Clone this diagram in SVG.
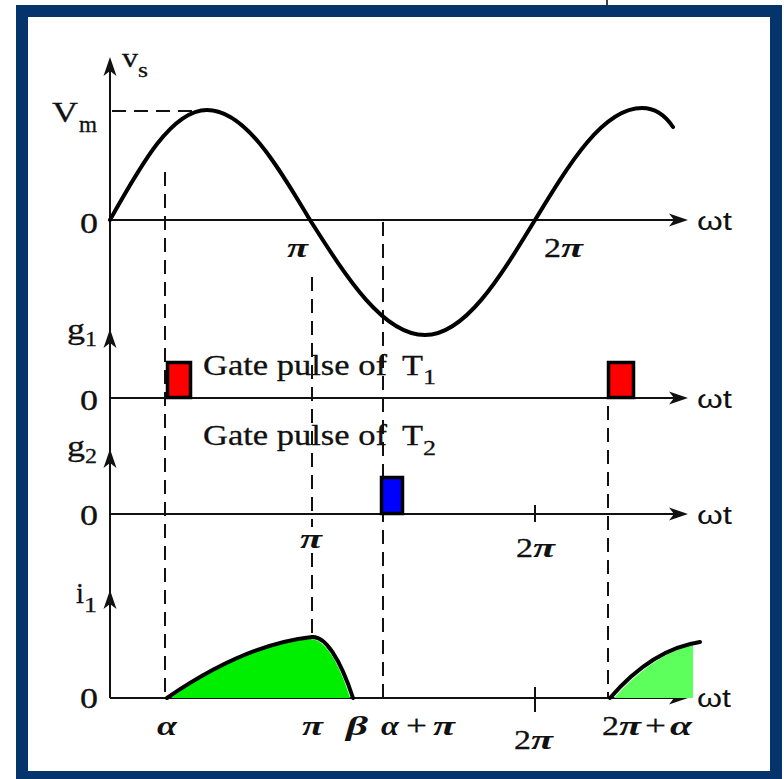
<svg xmlns="http://www.w3.org/2000/svg" width="784" height="779" viewBox="0 0 784 779">
<style>
.s{font-family:"Liberation Serif","Times New Roman",serif;fill:#111;stroke:#111;stroke-width:0.3}
.gk{font-family:"Liberation Serif","Times New Roman",serif;font-style:italic;font-weight:bold;fill:#111}
.sa{font-family:"Liberation Sans",Arial,sans-serif;fill:#111}
.ax{stroke:#111;stroke-width:2;fill:none}
.dash{stroke:#111;stroke-width:2;fill:none;stroke-dasharray:14 8}
.wave{stroke:#000;stroke-width:4;fill:none;stroke-linecap:round}
.pulse{stroke:#000;stroke-width:3.5}
</style>
<defs>
<path id="ah" d="M0,0 L-19,-6.5 L-14,0 L-19,6.5 Z" fill="#111"/>
</defs>
<rect x="0" y="0" width="784" height="779" fill="#fff"/>
<g id="frame">
<rect x="22" y="11" width="754" height="766" fill="none" stroke="#05346c" stroke-width="12"/>
<line x1="607" y1="0" x2="607" y2="5" stroke="#000" stroke-width="1.5"/>
</g>
<g id="connectors">
<path class="ax" d="M110,62 V698"/>
<path class="ax" d="M110,220 H682"/>
<path class="ax" d="M110,398 H682"/>
<path class="ax" d="M110,514 H682"/>
<path class="ax" d="M110,698 H682"/>
<use href="#ah" transform="translate(688,220)"/>
<use href="#ah" transform="translate(688,398)"/>
<use href="#ah" transform="translate(688,514)"/>
<use href="#ah" transform="translate(688,698)"/>
<use href="#ah" transform="translate(110,57) rotate(-90)"/>
<use href="#ah" transform="translate(110,329) rotate(-90)"/>
<use href="#ah" transform="translate(110,449) rotate(-90)"/>
<use href="#ah" transform="translate(110,590) rotate(-90)"/>
<path class="ax" d="M535,505 V522 M535,687 V712"/>
<path class="dash" d="M112,111 H200"/>
<path class="dash" d="M165,172 V698"/>
<path class="dash" d="M312,277 V527 M312,553 V698"/>
<path class="dash" d="M383,222 V698"/>
<path class="dash" d="M608,406 V698"/>
</g>
<g id="vs-wave">
<path class="wave" d="M110,220 C141.6,163.6 171.9,110 207,110 C244.3,110 276.4,163.6 310,220 C347.5,278.9 383.4,335 425,335 C464.8,335 499.1,278.9 535,220 C569.9,162.6 603.3,108 642,108 C655,108 665,115 673,127"/>
</g>
<g id="gate-pulses">
<rect class="pulse" x="167.5" y="362.5" width="23" height="35" fill="#ff0000"/>
<rect class="pulse" x="608.5" y="362.5" width="25" height="35" fill="#ff0000"/>
<rect class="pulse" x="381.5" y="477.5" width="21" height="36" fill="#0000ff"/>
</g>
<g id="current">
<path d="M171,698 C215,666 265,643 311,639 C325,640 338,660 350,698 Z" fill="#00ee00"/>
<path class="wave" d="M167,698 C215,665 265,642 312,637 C325,636 340,658 353,698"/>
<path d="M614,698 C637,672 665,651 693,645 L693,698 Z" fill="#5cff5c"/>
<path class="wave" d="M610,698 C636,668 666,647 700,642"/>
</g>
<g id="labels">
<text class="s" x="122" y="67" font-size="28" textLength="16" lengthAdjust="spacingAndGlyphs">v</text>
<text class="s" x="138" y="77" font-size="22" textLength="10" lengthAdjust="spacingAndGlyphs">s</text>
<text class="s" x="52" y="122" font-size="30" textLength="26" lengthAdjust="spacingAndGlyphs">V</text>
<text class="s" x="79" y="132" font-size="23" textLength="18" lengthAdjust="spacingAndGlyphs">m</text>
<text class="s" x="80" y="233" font-size="30" textLength="18" lengthAdjust="spacingAndGlyphs">0</text>
<text class="s" x="80" y="410" font-size="30" textLength="18" lengthAdjust="spacingAndGlyphs">0</text>
<text class="s" x="80" y="525" font-size="30" textLength="18" lengthAdjust="spacingAndGlyphs">0</text>
<text class="s" x="80" y="708" font-size="30" textLength="18" lengthAdjust="spacingAndGlyphs">0</text>
<text class="s" x="67" y="339" font-size="30" textLength="18" lengthAdjust="spacingAndGlyphs">g</text>
<text class="s" x="85" y="346" font-size="22" textLength="12" lengthAdjust="spacingAndGlyphs">1</text>
<text class="s" x="67" y="456" font-size="30" textLength="18" lengthAdjust="spacingAndGlyphs">g</text>
<text class="s" x="85" y="463" font-size="22" textLength="12" lengthAdjust="spacingAndGlyphs">2</text>
<text class="s" x="76" y="603" font-size="30" textLength="8" lengthAdjust="spacingAndGlyphs">i</text>
<text class="s" x="84" y="612" font-size="22" textLength="13" lengthAdjust="spacingAndGlyphs">1</text>
<text class="s" x="203" y="375" font-size="30" textLength="184" lengthAdjust="spacingAndGlyphs">Gate pulse of</text>
<text class="s" x="402" y="375" font-size="30" textLength="21" lengthAdjust="spacingAndGlyphs">T</text>
<text class="s" x="423" y="384" font-size="22" textLength="13" lengthAdjust="spacingAndGlyphs">1</text>
<text class="s" x="203" y="445" font-size="30" textLength="184" lengthAdjust="spacingAndGlyphs">Gate pulse of</text>
<text class="s" x="402" y="445" font-size="30" textLength="21" lengthAdjust="spacingAndGlyphs">T</text>
<text class="s" x="423" y="455" font-size="22" textLength="13" lengthAdjust="spacingAndGlyphs">2</text>
<text class="sa" x="697" y="230" font-size="26" textLength="35" lengthAdjust="spacingAndGlyphs">ωt</text>
<text class="sa" x="697" y="408" font-size="26" textLength="35" lengthAdjust="spacingAndGlyphs">ωt</text>
<text class="sa" x="697" y="524" font-size="26" textLength="35" lengthAdjust="spacingAndGlyphs">ωt</text>
<text class="sa" x="697" y="707" font-size="26" textLength="34" lengthAdjust="spacingAndGlyphs">ωt</text>
<text class="gk" x="287" y="257" font-size="28" textLength="21" lengthAdjust="spacingAndGlyphs">π</text>
<text class="s" x="544" y="257" font-size="28" textLength="17" lengthAdjust="spacingAndGlyphs">2</text>
<text class="gk" x="561" y="257" font-size="28" textLength="22" lengthAdjust="spacingAndGlyphs">π</text>
<text class="gk" x="300" y="548" font-size="28" textLength="22" lengthAdjust="spacingAndGlyphs">π</text>
<text class="s" x="516" y="557" font-size="28" textLength="17" lengthAdjust="spacingAndGlyphs">2</text>
<text class="gk" x="533" y="557" font-size="28" textLength="22" lengthAdjust="spacingAndGlyphs">π</text>
<text class="gk" x="157" y="735" font-size="28" textLength="20" lengthAdjust="spacingAndGlyphs">α</text>
<text class="gk" x="302" y="735" font-size="28" textLength="21" lengthAdjust="spacingAndGlyphs">π</text>
<text class="gk" x="346" y="735" font-size="28" textLength="22" lengthAdjust="spacingAndGlyphs">β</text>
<text class="gk" x="381" y="735" font-size="28" textLength="18" lengthAdjust="spacingAndGlyphs">α</text>
<text class="s" x="406" y="735" font-size="30" textLength="21" lengthAdjust="spacingAndGlyphs">+</text>
<text class="gk" x="433" y="735" font-size="28" textLength="22" lengthAdjust="spacingAndGlyphs">π</text>
<text class="s" x="514" y="749" font-size="28" textLength="17" lengthAdjust="spacingAndGlyphs">2</text>
<text class="gk" x="531" y="749" font-size="28" textLength="22" lengthAdjust="spacingAndGlyphs">π</text>
<text class="s" x="602" y="735" font-size="28" textLength="17" lengthAdjust="spacingAndGlyphs">2</text>
<text class="gk" x="619" y="735" font-size="28" textLength="22" lengthAdjust="spacingAndGlyphs">π</text>
<text class="s" x="645" y="735" font-size="30" textLength="21" lengthAdjust="spacingAndGlyphs">+</text>
<text class="gk" x="670" y="735" font-size="28" textLength="22" lengthAdjust="spacingAndGlyphs">α</text>
</g>
</svg>
